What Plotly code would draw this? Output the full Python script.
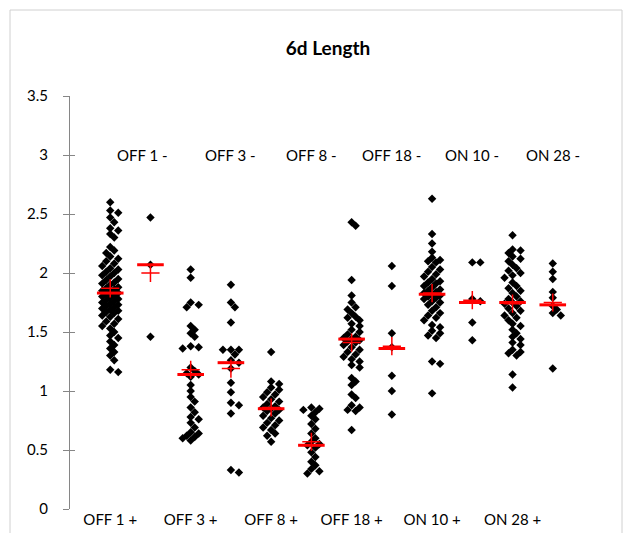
import plotly.graph_objects as go

# ---- data ----
bottom_labels = ["OFF 1 +", "OFF 3 +", "OFF 8 +", "OFF 18 +", "ON 10 +", "ON 28 +"]
top_labels = ["OFF 1 -", "OFF 3 -", "OFF 8 -", "OFF 18 -", "ON 10 -", "ON 28 -"]

off1_plus = [2.60, 2.53, 2.51, 2.47, 2.43, 2.38, 2.36, 2.33, 2.30, 2.22, 2.19, 2.17, 2.14,
             2.12, 2.10, 2.08, 2.06, 2.04, 2.03, 2.01, 2.00, 1.98, 1.97, 1.95, 1.94, 1.92,
             1.91, 1.90, 1.88, 1.87, 1.86, 1.85, 1.84, 1.83, 1.82, 1.81, 1.80, 1.79, 1.78,
             1.77, 1.76, 1.75, 1.74, 1.73, 1.72, 1.71, 1.70, 1.69, 1.68, 1.67, 1.66, 1.64,
             1.63, 1.61, 1.59, 1.57, 1.55, 1.53, 1.50, 1.47, 1.45, 1.42, 1.39, 1.36, 1.33,
             1.30, 1.26, 1.18, 1.16]
off1_minus = [2.47, 2.07, 1.46]
off3_plus = [2.03, 1.96, 1.75, 1.73, 1.71, 1.55, 1.52, 1.49, 1.46, 1.38, 1.37, 1.36, 1.20,
             1.17, 1.15, 1.14, 1.12, 1.05, 1.00, 0.95, 0.91, 0.86, 0.82, 0.78, 0.76, 0.73,
             0.69, 0.65, 0.62, 0.60, 0.58, 0.61, 0.64]
off3_minus = [1.90, 1.75, 1.71, 1.58, 1.35, 1.35, 1.35, 1.31, 1.26, 1.24, 1.19, 1.07, 0.99,
              0.90, 0.88, 0.81, 0.33, 0.31]
off8_plus = [1.33, 1.08, 1.06, 1.03, 1.01, 0.99, 0.97, 0.95, 0.93, 0.91, 0.89, 0.87, 0.86,
             0.85, 0.84, 0.83, 0.81, 0.79, 0.77, 0.75, 0.73, 0.71, 0.69, 0.67, 0.64, 0.62, 0.57]
off8_minus = [0.86, 0.85, 0.84, 0.82, 0.79, 0.76, 0.72, 0.68, 0.64, 0.60, 0.57, 0.55, 0.54,
              0.52, 0.48, 0.44, 0.40, 0.37, 0.34, 0.32, 0.30]
off18_plus = [2.43, 2.40, 1.94, 1.81, 1.75, 1.71, 1.69, 1.66, 1.63, 1.62, 1.60, 1.57, 1.55,
              1.52, 1.50, 1.48, 1.46, 1.45, 1.44, 1.43, 1.42, 1.41, 1.39, 1.37, 1.35, 1.33,
              1.31, 1.29, 1.27, 1.25, 1.22, 1.20, 1.11, 1.08, 1.05, 0.97, 0.94, 0.88, 0.86,
              0.84, 0.83, 0.67]
off18_minus = [2.06, 1.89, 1.49, 1.37, 1.13, 1.00, 0.80]
on10_plus = [2.63, 2.33, 2.25, 2.18, 2.13, 2.11, 2.10, 2.09, 2.05, 2.03, 2.01, 1.99, 1.97,
             1.95, 1.93, 1.92, 1.91, 1.89, 1.88, 1.86, 1.85, 1.84, 1.83, 1.82, 1.81, 1.80,
             1.79, 1.78, 1.76, 1.75, 1.73, 1.71, 1.68, 1.66, 1.64, 1.62, 1.60, 1.56, 1.54,
             1.51, 1.49, 1.47, 1.45, 1.25, 1.23, 0.98]
on10_minus = [2.09, 2.09, 1.78, 1.76, 1.58, 1.43]
on28_plus = [2.32, 2.20, 2.19, 2.17, 2.14, 2.12, 2.10, 2.07, 2.04, 2.02, 2.00, 1.98, 1.96,
             1.92, 1.89, 1.87, 1.85, 1.83, 1.80, 1.78, 1.76, 1.75, 1.74, 1.72, 1.70, 1.68,
             1.66, 1.64, 1.62, 1.60, 1.57, 1.55, 1.52, 1.49, 1.46, 1.44, 1.41, 1.39, 1.35,
             1.33, 1.32, 1.30, 1.14, 1.03]
on28_minus = [2.08, 2.01, 1.95, 1.84, 1.79, 1.72, 1.69, 1.66, 1.64, 1.19]

medians = [1.83, 2.07, 1.14, 1.24, 0.85, 0.54, 1.44, 1.36, 1.82, 1.75, 1.75, 1.73]
means = [1.87, 2.00, 1.18, 1.19, 0.86, 0.57, 1.41, 1.38, 1.83, 1.77, 1.74, 1.75]

groups = [off1_plus, off1_minus, off3_plus, off3_minus, off8_plus, off8_minus,
          off18_plus, off18_minus, on10_plus, on10_minus, on28_plus, on28_minus]

# ---- layout geometry (pixels) ----
W, H = 629, 533
L, R, T, B = 70, 36, 96, 24
plot_w = W - L - R
plot_h = H - T - B
x_range = [0, 13]
y_range = [0, 3.5]
px_per_x = plot_w / (x_range[1] - x_range[0])
px_per_y = plot_h / (y_range[1] - y_range[0])


def swarm(vals, center, step=4.0, mind=5.0):
    placed = []
    xs = [0.0] * len(vals)
    order = sorted(range(len(vals)), key=lambda i: -vals[i])
    cands = [0, 1, -1, 2, -2]
    for i in order:
        y = vals[i] * px_per_y
        best, bestd = 0, -1
        for k in cands:
            off = k * step
            d = min([((off - ox) ** 2 + (y - oy) ** 2) ** 0.5 for ox, oy in placed] or [99])
            if d >= mind:
                best = off
                break
            if d > bestd:
                best, bestd = off, d
        placed.append((best, y))
        xs[i] = center + best / px_per_x
    return xs


fig = go.Figure()
all_x, all_y = [], []
for gi, vals in enumerate(groups):
    xs = swarm(vals, gi + 1)
    all_x += xs
    all_y += vals

fig.add_trace(go.Scatter(x=all_x, y=all_y, mode="markers",
                         marker=dict(symbol="diamond", size=6.5, color="black",
                                     line=dict(width=0)),
                         showlegend=False, hoverinfo="y"))

positions = list(range(1, len(groups) + 1))
fig.add_trace(go.Scatter(x=positions, y=medians, mode="markers",
                         marker=dict(symbol="line-ew", size=19,
                                     line=dict(color="#ff0000", width=3)),
                         showlegend=False))
fig.add_trace(go.Scatter(x=positions, y=means, mode="markers",
                         marker=dict(symbol="cross-thin", size=13,
                                     line=dict(color="#ff0000", width=1.5)),
                         showlegend=False))

font = "Lato, 'Open Sans', sans-serif"
annotations = []
for k, lab in enumerate(top_labels):
    annotations.append(dict(x=2 * (k + 1), y=3.0, text=lab, showarrow=False,
                            xref="x", yref="y", xshift=-8 if k == 0 else 0,
                            font=dict(size=15, color="black", family=font)))

# chart border
bx0 = (10 - L) / plot_w
bx1 = (622 - L) / plot_w
by1 = (H - B - 10) / plot_h
by0 = (H - B - 545) / plot_h

fig.update_layout(
    width=W, height=H,
    margin=dict(l=L, r=R, t=T, b=B),
    paper_bgcolor="white", plot_bgcolor="white",
    title=dict(text="<b>6d Length</b>", x=328 / W, y=1 - 48 / H, xanchor="center",
               yanchor="middle", font=dict(size=19, color="black", family=font)),
    xaxis=dict(range=x_range, showgrid=False, zeroline=False, showline=False,
               automargin=False,
               tickvals=[1, 3, 5, 7, 9, 11], ticktext=bottom_labels, ticks="",
               tickfont=dict(size=15, color="black", family=font)),
    yaxis=dict(range=y_range, showgrid=False, zeroline=False, showline=True,
               automargin=False,
               linecolor="#868686", linewidth=1, ticks="outside", ticklen=6,
               tickcolor="#868686", tickvals=[0, 0.5, 1, 1.5, 2, 2.5, 3, 3.5],
               ticktext=["0", "0.5", "1", "1.5", "2", "2.5", "3", "3.5"],
               tickfont=dict(size=15, color="black", family=font), ticklabelstandoff=12),
    yaxis2=dict(range=y_range, overlaying="y", showgrid=False, zeroline=False,
                automargin=False,
                showline=False, ticks="inside", ticklen=5, tickcolor="#868686",
                tickvals=[0, 0.5, 1, 1.5, 2, 2.5, 3, 3.5], showticklabels=False, side="left"),
    annotations=annotations,
    shapes=[dict(type="rect", xref="paper", yref="paper", x0=bx0, x1=bx1, y0=by0, y1=by1,
                 line=dict(color="#d0d0d0", width=1), fillcolor="rgba(0,0,0,0)", layer="below")],
)
# invisible trace to activate yaxis2
fig.add_trace(go.Scatter(x=[None], y=[None], yaxis="y2", showlegend=False, hoverinfo="skip"))

fig.write_html("out.html", config={"displayModeBar": False},
               post_script="document.body.style.margin='0';document.body.style.overflow='hidden';")
